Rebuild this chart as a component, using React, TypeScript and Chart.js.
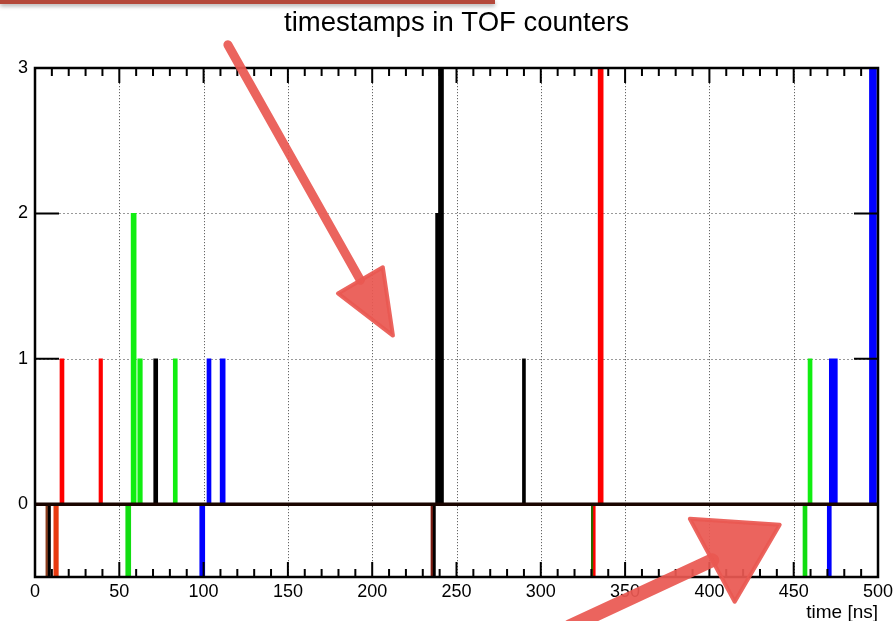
import React, { useEffect, useRef } from "react";
import { Chart, registerables } from "chart.js";

Chart.register(...registerables);

// ---- data ----
const xTicks = [0, 50, 100, 150, 200, 250, 300, 350, 400, 450, 500];
const yTicks = [0, 1, 2, 3];

// counts above zero, per TOF counter colour
const redTimes = [16, 39, 335.5];
const redCounts = [1, 1, 3];
const greenTimes = [58.5, 62.3, 83.2, 459.7];
const greenCounts = [2, 1, 1, 1];
const blackTimes = [71.6, 238.5, 240.8, 290];
const blackCounts = [1, 2, 3, 1];
const blueTimes = [103.2, 111.3, 473.5, 497];
const blueCounts = [1, 1, 1, 3];

// reference markers below zero
const markerTimes = [6.9, 8.3, 12.5, 55.3, 99.2, 235.3, 236.6, 330.4, 331.4, 456.7, 471.1];
const markerLevel = -0.5;

// styles (kept apart from the data)
const redWidths = [4, 3.5, 5];
const greenWidths = [5, 4.5, 4, 4];
const blackWidths = [4, 3, 5, 3];
const blueWidths = [4, 5, 8, 7];
const markerColors = ["#8b3a1a", "#000000", "#e83a10", "#11dd11", "#0000ff", "#7a1a10", "#000000", "#2a6a00", "#ff0000", "#11dd11", "#0000ff"];
const markerWidths = [1.5, 3, 4.5, 5, 5, 1.5, 3, 1.5, 3, 4, 4];

// hand-drawn annotation arrows, in data coordinates
const arrow1 = { tail: [114.4, 3.16], tip: [212.3, 1.16], left: [179.7, 1.45], right: [206.3, 1.63], width: 9 };
const arrow2 = { tail: [317.2, -0.84], tip: [441.7, -0.14], left: [388.4, -0.1], right: [415.0, -0.67], width: 14 };

const FONT = "'Liberation Sans', Helvetica, Arial, sans-serif";

function stems(times: number[], counts: number[], widths: number[], color: string) {
  return times.map((t, i) => ({
    type: "bar" as const,
    data: [{ x: t, y: counts[i] }],
    backgroundColor: color,
    borderWidth: 0,
    barThickness: widths[i],
    grouped: false,
  }));
}

const framePlugin = {
  id: "rootFrame",
  beforeDatasetsDraw(chart: any) {
    const { ctx, chartArea: a, scales } = chart;
    const xs = scales.x, ys = scales.y;
    ctx.save();
    ctx.strokeStyle = "#666";
    ctx.lineWidth = 1;
    ctx.setLineDash([1.2, 1.8]);
    xTicks.slice(1, -1).forEach((v) => {
      const px = Math.round(xs.getPixelForValue(v)) + 0.5;
      ctx.beginPath();
      ctx.moveTo(px, a.top);
      ctx.lineTo(px, a.bottom);
      ctx.stroke();
    });
    ctx.strokeStyle = "#999";
    ctx.setLineDash([2, 2]);
    [1, 2].forEach((v) => {
      const py = Math.round(ys.getPixelForValue(v)) + 0.5;
      ctx.beginPath();
      ctx.moveTo(a.left, py);
      ctx.lineTo(a.right, py);
      ctx.stroke();
    });
    ctx.restore();
  },
  afterDatasetsDraw(chart: any) {
    const { ctx, chartArea: a, scales } = chart;
    const xs = scales.x, ys = scales.y;
    ctx.save();
    const y0 = ys.getPixelForValue(0);
    ctx.strokeStyle = "#1a0500";
    ctx.lineWidth = 3.5;
    ctx.beginPath();
    ctx.moveTo(a.left, y0);
    ctx.lineTo(a.right, y0);
    ctx.stroke();
    ctx.strokeStyle = "#000";
    ctx.lineWidth = 2;
    for (let v = 0; v <= 500; v += 10) {
      const px = xs.getPixelForValue(v);
      const len = v % 50 === 0 ? 15 : 8;
      ctx.beginPath();
      ctx.moveTo(px, a.bottom);
      ctx.lineTo(px, a.bottom - len);
      ctx.moveTo(px, a.top);
      ctx.lineTo(px, a.top + len);
      ctx.stroke();
    }
    [1, 2].forEach((v) => {
      const py = ys.getPixelForValue(v);
      ctx.beginPath();
      ctx.moveTo(a.left, py);
      ctx.lineTo(a.left + 24, py);
      ctx.moveTo(a.right, py);
      ctx.lineTo(a.right - 24, py);
      ctx.stroke();
    });
    ctx.lineWidth = 2.5;
    ctx.strokeRect(a.left, a.top, a.right - a.left, a.bottom - a.top);
    ctx.restore();
  },
  afterDraw(chart: any) {
    const { ctx, scales } = chart;
    const xs = scales.x, ys = scales.y;
    const P = (p: number[]) => [xs.getPixelForValue(p[0]), ys.getPixelForValue(p[1])];
    ctx.save();
    ctx.fillStyle = "rgba(233, 88, 82, 0.93)";
    ctx.strokeStyle = "rgba(233, 88, 82, 0.93)";
    ctx.lineCap = "round";
    ctx.lineJoin = "round";
    [arrow1, arrow2].forEach((ar) => {
      const t = P(ar.tail), tip = P(ar.tip), l = P(ar.left), r = P(ar.right);
      const mx = (l[0] + r[0]) / 2, my = (l[1] + r[1]) / 2;
      ctx.lineWidth = ar.width;
      ctx.beginPath();
      ctx.moveTo(t[0], t[1]);
      ctx.lineTo(mx, my);
      ctx.stroke();
      ctx.lineWidth = 4;
      ctx.beginPath();
      ctx.moveTo(l[0], l[1]);
      ctx.lineTo(r[0], r[1]);
      ctx.lineTo(tip[0], tip[1]);
      ctx.closePath();
      ctx.fill();
      ctx.stroke();
    });
    ctx.restore();
  },
};

export default function App() {
  const ref = useRef<HTMLCanvasElement | null>(null);

  useEffect(() => {
    if (!ref.current) return;
    const datasets: any[] = [
      ...stems(redTimes, redCounts, redWidths, "#ff0000"),
      ...stems(greenTimes, greenCounts, greenWidths, "#11ee11"),
      ...stems(blackTimes, blackCounts, blackWidths, "#000000"),
      ...stems(blueTimes, blueCounts, blueWidths, "#0000ff"),
      ...markerTimes.map((t, i) => ({
        type: "bar" as const,
        data: [{ x: t, y: markerLevel }],
        backgroundColor: markerColors[i],
        borderWidth: 0,
        barThickness: markerWidths[i],
        grouped: false,
      })),
    ];
    const chart = new Chart(ref.current, {
      type: "bar",
      data: { datasets },
      plugins: [framePlugin],
      options: {
        responsive: false,
        animation: false,
        layout: { padding: { left: 0, right: 16, top: 0, bottom: 0 } },
        plugins: {
          legend: { display: false },
          tooltip: { enabled: false },
          title: {
            display: true,
            text: "timestamps in TOF counters",
            fullSize: false,
            color: "#000",
            font: { family: FONT, size: 27.5, weight: "normal", lineHeight: 1.2 },
            padding: { top: 7.2, bottom: 27.8 },
          },
        },
        scales: {
          x: {
            type: "linear",
            offset: false,
            min: 0,
            max: 500,
            grid: { display: false, drawTicks: false, tickLength: 0 },
            border: { display: false },
            afterBuildTicks: (s: any) => {
              s.ticks = xTicks.map((v) => ({ value: v }));
            },
            afterFit: (s: any) => {
              s.height = 44;
              s.paddingLeft = 0;
              s.paddingRight = 0;
            },
            ticks: {
              autoSkip: false,
              maxRotation: 0,
              color: "#000",
              padding: 4,
              font: { family: FONT, size: 18 },
            },
            title: {
              display: true,
              text: "time [ns]",
              align: "end",
              color: "#000",
              padding: { top: 0, bottom: -3 },
              font: { family: FONT, size: 19 },
            },
          },
          y: {
            type: "linear",
            min: -0.5,
            max: 3,
            grid: { display: false, drawTicks: false, tickLength: 0 },
            border: { display: false },
            afterBuildTicks: (s: any) => {
              s.ticks = yTicks.map((v) => ({ value: v }));
            },
            afterFit: (s: any) => {
              s.width = 35;
              s.paddingTop = 0;
              s.paddingBottom = 0;
            },
            ticks: {
              color: "#000",
              padding: 7,
              font: { family: FONT, size: 18 },
            },
          },
        },
      },
    });
    return () => chart.destroy();
  }, []);

  return (
    <div style={{ position: "absolute", left: 0, top: 0, width: 894, height: 621, background: "#fff" }}>
      <div
        style={{
          position: "absolute",
          left: 0,
          top: 0,
          width: 495,
          height: 4,
          background: "#b4483a",
          boxShadow: "0 2px 4px rgba(0,0,0,0.35)",
        }}
      />
      <canvas ref={ref} width={894} height={621} style={{ display: "block" }} />
    </div>
  );
}
